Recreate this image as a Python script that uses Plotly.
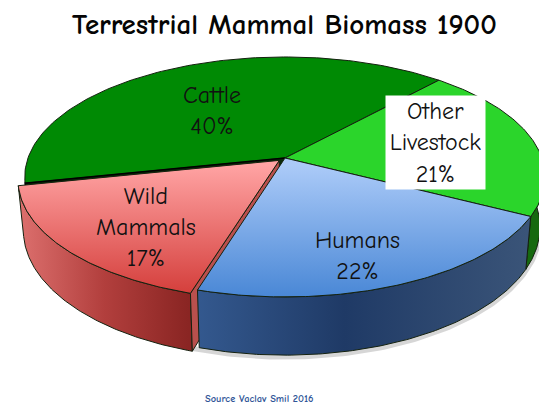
import numpy as np
import plotly.graph_objects as go

# --- data, in clockwise pie order ---
categories = ["Other<br>Livestock", "Humans", "Wild<br>Mammals", "Cattle"]
shares = [21, 22, 17, 40]
title_text = "Terrestrial Mammal Biomass 1900"
source_text = "Source Vaclav Smil 2016"

# --- projection of the tilted pie (pixel-valued axes) ---
W, H = 539, 406
CX, CY, RX, RY, PERSP = 285, 158, 257, 117, 0.158
DEPTH, TAPER = 49, 0.98
START_DEG = 48
EXPLODE = {"Wild<br>Mammals": 0.03}
FONT = "Comic Sans MS, Comic Neue, Lato, sans-serif"


def project(u, v, low=False):
    w = 1 + PERSP * np.asarray(v)
    dx = RX * np.asarray(u) / w
    dy = -RY * np.asarray(v) / w
    if low:
        return CX + dx * TAPER, CY + dy + DEPTH / w
    return CX + dx, CY + dy


def disk(a_deg, off=(0, 0)):
    a = np.radians(a_deg)
    return np.cos(a) + off[0], np.sin(a) + off[1]


fig = go.Figure()


def poly(x, y, color=None, grad=None, line="#14210f", lw=1.0):
    kw = dict(fillgradient=grad) if grad else dict(fillcolor=color)
    fig.add_trace(go.Scatter(x=np.asarray(x), y=np.asarray(y), mode="lines", fill="toself",
                             line=dict(color=line, width=lw), hoverinfo="skip",
                             showlegend=False, **kw))


def vgrad(c0, c1, y0, y1):
    return dict(type="vertical", colorscale=[[0, c0], [1, c1]], start=y0, stop=y1)


def hgrad(stops, x0, x1):
    return dict(type="horizontal", colorscale=stops, start=x0, stop=x1)


# slice angles derived from the shares
edges = START_DEG - np.cumsum([0] + [s * 3.6 for s in shares])
sl = {}
for c, a0, a1 in zip(categories, edges[:-1], edges[1:]):
    mid = np.radians((a0 + a1) / 2)
    e = EXPLODE.get(c, 0)
    sl[c] = dict(a0=a0, a1=a1, off=(e * np.cos(mid), e * np.sin(mid)))


def top(c):
    s = sl[c]
    x, y = project(*disk(np.linspace(s["a0"], s["a1"], 120), s["off"]))
    ax, ay = project(*s["off"])
    return np.r_[ax, x, ax], np.r_[ay, y, ay]


def side(c, a0=None):
    s = sl[c]
    a = np.linspace(s["a0"] if a0 is None else a0, s["a1"], 120)
    x, y = project(*disk(a, s["off"]))
    xb, yb = project(*disk(a, s["off"]), low=True)
    return np.r_[x, xb[::-1], x[0]], np.r_[y, yb[::-1], y[0]]


def radial(c, a):
    off = sl[c]["off"]
    p = disk(a, off)
    x0, y0 = project(*off)
    x1, y1 = project(*p)
    x2, y2 = project(*p, low=True)
    x3, y3 = project(*off, low=True)
    return [x0, x1, x2, x3, x0], [y0, y1, y2, y3, y0]


OTHER, HUM, WILD, CATTLE = categories

# soft shadow under the front rim
a = np.linspace(-10, -175, 200)
sx, sy = project(*disk(a), low=True)
fig.add_trace(go.Scatter(x=sx, y=sy + 2, mode="lines", line=dict(color="rgba(0,0,0,0.16)", width=5),
                         hoverinfo="skip", showlegend=False))

# back slices
x, y = side(OTHER, a0=0)
poly(x, y, color="#16690f")
x, y = top(CATTLE)
poly(x, y, color="#008a04")
x, y = top(OTHER)
poly(x, y, color="#2bd52b")

# dark face in the gap left by the exploded wedge
x, y = radial(CATTLE, sl[CATTLE]["a0"])
poly(x, y, color="#0a2a08", line="#000000", lw=1.5)

# exploded wedge
x, y = side(WILD)
poly(x, y, grad=hgrad([[0, "#dc6f6d"], [0.5, "#b23f3d"], [1, "#8a2523"]], 20, 188))
x, y = radial(WILD, sl[WILD]["a0"])
poly(x, y, color="#b9504d")
x, y = top(WILD)
poly(x, y, grad=vgrad("#ffa3a3", "#d5403d", 165, 292))

# front slice
x, y = side(HUM)
poly(x, y, grad=hgrad([[0, "#34598f"], [0.45, "#1f3a66"], [1, "#3a5478"]], 195, 527))
x, y = top(HUM)
poly(x, y, grad=vgrad("#abcaf8", "#4a88d6", 165, 296))

label_pos = {OTHER: (435, 142.5), HUM: (357, 255), WILD: (146, 227), CATTLE: (212, 110)}
for c, sh in zip(categories, shares):
    boxed = c == OTHER
    fig.add_annotation(
        x=label_pos[c][0], y=label_pos[c][1], xref="x", yref="y", showarrow=False,
        text=f"{c}<br>{sh}%", align="center",
        font=dict(family=FONT, size=24, color="#111111"),
        bgcolor="#ffffff" if boxed else None,
        width=97 if boxed else None, height=91 if boxed else None,
    )

fig.add_annotation(x=284, y=24, xref="x", yref="y", showarrow=False, text=f"<b>{title_text}</b>",
                   font=dict(family=FONT, size=29, color="#050505"))
fig.add_annotation(x=259, y=399, xref="x", yref="y", showarrow=False, text=f"<b>{source_text}</b>",
                   font=dict(family=FONT, size=10.4, color="#2f5597"))

fig.update_layout(
    width=W, height=H, margin=dict(l=0, r=0, t=0, b=0),
    paper_bgcolor="white", plot_bgcolor="white", showlegend=False,
    xaxis=dict(range=[0, W], visible=False, fixedrange=True),
    yaxis=dict(range=[H, 0], visible=False, fixedrange=True),
)
fig.write_html("out.html", config=dict(displayModeBar=False),
               post_script="document.body.style.margin='0';document.body.style.overflow='hidden';")
